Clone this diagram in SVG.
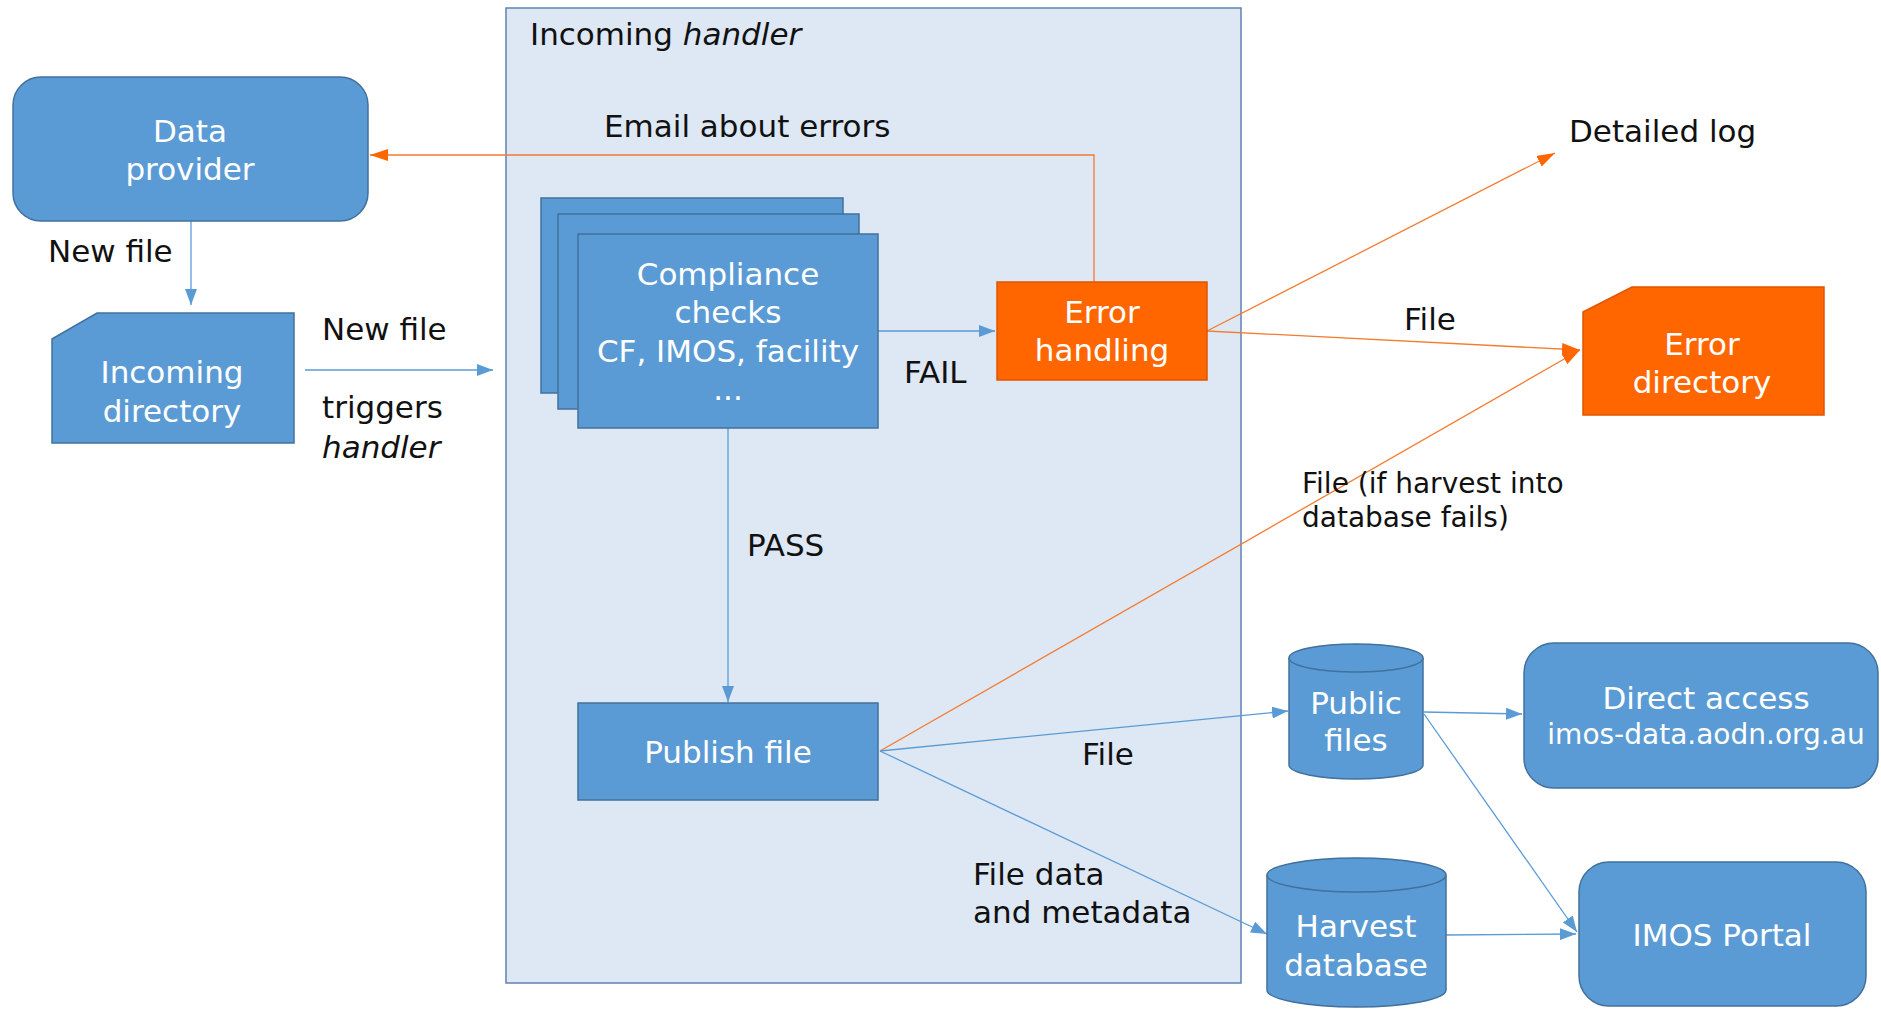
<svg xmlns="http://www.w3.org/2000/svg" width="1881" height="1010" viewBox="0 0 1881 1010">
<style>
text{font-family:"DejaVu Sans","Liberation Sans",sans-serif;font-size:31px}
.lbl{fill:#111}
.w{fill:#fff;text-anchor:middle}
.sm{font-size:28px}
.it{font-style:italic}
.blue{fill:#5b9bd5;stroke:#41719c;stroke-width:1.5}
.orange{fill:#ff6600;stroke:#e05500;stroke-width:1.5}
.cb{fill:none;stroke:#5b9bd5;stroke-width:1.3}
.co{fill:none;stroke:#f47b30;stroke-width:1.3}
</style>
<defs>
<marker id="ab" markerUnits="userSpaceOnUse" markerWidth="16" markerHeight="12" refX="16" refY="6" orient="auto"><path d="M0,0 L16,6 L0,12 Z" fill="#5b9bd5"/></marker>
<marker id="ao" markerUnits="userSpaceOnUse" markerWidth="18" markerHeight="12" refX="18" refY="6" orient="auto"><path d="M0,0 L18,6 L0,12 Z" fill="#ff6600"/></marker>
</defs>
<rect width="1881" height="1010" fill="#fff"/>
<g id="handler">
<rect x="506" y="8" width="735" height="975" fill="#dde8f4" stroke="#5f83b0" stroke-width="1.5"/>
<text class="lbl" x="530" y="45">Incoming <tspan class="it">handler</tspan></text>
</g>
<g id="connectors">
<path class="cb" d="M191,221 V305" marker-end="url(#ab)"/>
<path class="cb" d="M305,370 H493" marker-end="url(#ab)"/>
<path class="cb" d="M878,331 H995" marker-end="url(#ab)"/>
<path class="cb" d="M728,428 V702" marker-end="url(#ab)"/>
<path class="co" d="M1094,282 V155 H370" marker-end="url(#ao)"/>
<path class="co" d="M1207,331 L1555,153" marker-end="url(#ao)"/>
<path class="co" d="M1207,331 L1580,350" marker-end="url(#ao)"/>
<path class="co" d="M880,751 L1580,350" marker-end="url(#ao)"/>
<path class="cb" d="M880,751 L1288,711" marker-end="url(#ab)"/>
<path class="cb" d="M880,751 L1267,934" marker-end="url(#ab)"/>
<path class="cb" d="M1424,712 L1522,714" marker-end="url(#ab)"/>
<path class="cb" d="M1424,714 L1577,932" marker-end="url(#ab)"/>
<path class="cb" d="M1446,935 L1576,934" marker-end="url(#ab)"/>
</g>
<g id="labels">
<text class="lbl" x="48" y="262">New file</text>
<text class="lbl" x="322" y="340">New file</text>
<text class="lbl" x="322" y="418">triggers</text>
<text class="lbl it" x="322" y="458">handler</text>
<text class="lbl" x="604" y="137">Email about errors</text>
<text class="lbl" x="904" y="383">FAIL</text>
<text class="lbl" x="747" y="556">PASS</text>
<text class="lbl" x="1569" y="142">Detailed log</text>
<text class="lbl" x="1404" y="330">File</text>
<text class="lbl sm" x="1302" y="493">File (if harvest into</text>
<text class="lbl sm" x="1302" y="527">database fails)</text>
<text class="lbl" x="1082" y="765">File</text>
<text class="lbl" x="973" y="885">File data</text>
<text class="lbl" x="973" y="923">and metadata</text>
</g>
<g id="data-provider">
<rect class="blue" x="13" y="77" width="355" height="144" rx="28"/>
<text class="w" x="190" y="142">Data</text>
<text class="w" x="190" y="180">provider</text>
</g>
<g id="incoming-directory">
<path class="blue" d="M52,339 L97,313 H294 V443 H52 Z"/>
<text class="w" x="172" y="383">Incoming</text>
<text class="w" x="172" y="422">directory</text>
</g>
<g id="compliance-checks">
<rect class="blue" x="541" y="198" width="302" height="195"/>
<rect class="blue" x="558" y="214" width="301" height="195"/>
<rect class="blue" x="578" y="234" width="300" height="194"/>
<text class="w" x="728" y="285">Compliance</text>
<text class="w" x="728" y="323">checks</text>
<text class="w" x="728" y="362">CF, IMOS, facility</text>
<text class="w" x="728" y="400">...</text>
</g>
<g id="error-handling">
<rect class="orange" x="997" y="282" width="210" height="98"/>
<text class="w" x="1102" y="323">Error</text>
<text class="w" x="1102" y="361">handling</text>
</g>
<g id="publish-file">
<rect class="blue" x="578" y="703" width="300" height="97"/>
<text class="w" x="728" y="763">Publish file</text>
</g>
<g id="error-directory">
<path class="orange" d="M1583,312 L1632,287 H1824 V415 H1583 Z"/>
<text class="w" x="1702" y="355">Error</text>
<text class="w" x="1702" y="393">directory</text>
</g>
<g id="public-files">
<path class="blue" d="M1289,658 A67,14 0 0 1 1423,658 V765 A67,14 0 0 1 1289,765 Z"/>
<path d="M1289,658 A67,14 0 0 0 1423,658" fill="none" stroke="#41719c" stroke-width="1.5"/>
<text class="w" x="1356" y="714">Public</text>
<text class="w" x="1356" y="751">files</text>
</g>
<g id="harvest-database">
<path class="blue" d="M1267,875 A89.5,17 0 0 1 1446,875 V990 A89.5,17 0 0 1 1267,990 Z"/>
<path d="M1267,875 A89.5,17 0 0 0 1446,875" fill="none" stroke="#41719c" stroke-width="1.5"/>
<text class="w" x="1356" y="937">Harvest</text>
<text class="w" x="1356" y="976">database</text>
</g>
<g id="direct-access">
<rect class="blue" x="1524" y="643" width="354" height="145" rx="30"/>
<text class="w" x="1706" y="709">Direct access</text>
<text class="w sm" x="1706" y="744">imos-data.aodn.org.au</text>
</g>
<g id="imos-portal">
<rect class="blue" x="1579" y="862" width="287" height="144" rx="30"/>
<text class="w" x="1722" y="946">IMOS Portal</text>
</g>
</svg>
